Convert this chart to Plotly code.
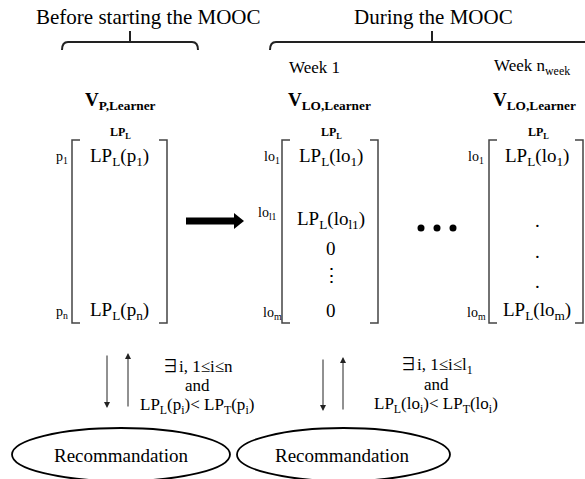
import plotly.graph_objects as go

# ---- content (texts) ----
phase_titles = ["Before starting the MOOC", "During the MOOC"]
week_labels = ["Week 1", "Week n<sub>week</sub>"]
vector_names = ["<b>V<sub>P,Learner</sub></b>", "<b>V<sub>LO,Learner</sub></b>", "<b>V<sub>LO,Learner</sub></b>"]
column_header = "<b>LP<sub>L</sub></b>"
m1_rows = ["p<sub>1</sub>", "p<sub>n</sub>"]
m1_cells = ["LP<sub>L</sub>(p<sub>1</sub>)", "LP<sub>L</sub>(p<sub>n</sub>)"]
m2_rows = ["lo<sub>1</sub>", "lo<sub>l1</sub>", "lo<sub>m</sub>"]
m2_cells = ["LP<sub>L</sub>(lo<sub>1</sub>)", "LP<sub>L</sub>(lo<sub>l1</sub>)", "0", "⋮", "0"]
m3_rows = ["lo<sub>1</sub>", "lo<sub>m</sub>"]
m3_cells = ["LP<sub>L</sub>(lo<sub>1</sub>)", ".", ".", ".", "LP<sub>L</sub>(lo<sub>m</sub>)"]
EX = '<span style="font-family:Noto Sans CJK JP">∃</span>'
cond1 = [EX + "i, 1≤i≤n", "and", "LP<sub>L</sub>(p<sub>i</sub>)< LP<sub>T</sub>(p<sub>i</sub>)"]
cond2 = [EX + "i, 1≤i≤l<sub>1</sub>", "and", "LP<sub>L</sub>(lo<sub>i</sub>)< LP<sub>T</sub>(lo<sub>i</sub>)"]
reco_label = "Recommandation"

# ---- layout geometry (pixel canvas) ----
W, H = 585, 479
FONT = "Liberation Serif, DejaVu Serif, serif"
fig = go.Figure()
ann = []
shapes = []

def txt(x, y, s, size, xanchor="center"):
    ann.append(dict(x=x, y=y, xref="x", yref="y", text=s, showarrow=False,
                    xanchor=xanchor, yanchor="middle", borderpad=0,
                    font=dict(family=FONT, size=size, color="black")))

def line_path(path, w=1.6, color="#222"):
    shapes.append(dict(type="path", path=path, xref="x", yref="y",
                       line=dict(color=color, width=w)))

# phase titles and top brackets
txt(148, 17, phase_titles[0], 21)
txt(433, 17, phase_titles[1], 21)
line_path("M62,50 Q62,42 68,42 L192,42 Q198,42 198,50", 2)
line_path("M130,42 L130,31", 2)
line_path("M270,50 Q270,42 276,42 L600,42", 2)
line_path("M432,42 L432,31", 2)

# week labels
txt(288, 67, week_labels[0], 17, "left")
txt(493, 67, week_labels[1], 17, "left")

# vector names
txt(120, 101, vector_names[0], 19)
txt(329, 101, vector_names[1], 19)
txt(534, 101, vector_names[2], 19)

# matrices
def matrix(xl, xr, top=140, bot=323):
    line_path(f"M{xl+8},{top} L{xl},{top} L{xl},{bot} L{xl+8},{bot}", 1.5, "#444")
    line_path(f"M{xr-8},{top} L{xr},{top} L{xr},{bot} L{xr-8},{bot}", 1.5, "#444")

matrix(72, 167)
matrix(282, 378)
matrix(489, 583)

# column headers
txt(120, 133, column_header, 12)
txt(331, 133, column_header, 12)
txt(538, 133, column_header, 12)

# matrix 1
txt(62, 157, m1_rows[0], 14)
txt(62, 312, m1_rows[1], 14)
txt(119, 157, m1_cells[0], 19)
txt(119, 311, m1_cells[1], 19)

# matrix 2
txt(272, 157, m2_rows[0], 14)
txt(267, 213, m2_rows[1], 14)
txt(272, 313, m2_rows[2], 14)
m2_y = [157, 220, 248, 275, 310]
for s, y in zip(m2_cells, m2_y):
    txt(331, y, s, 19)

# matrix 3
txt(476, 157, m3_rows[0], 14)
txt(476, 313, m3_rows[1], 14)
m3_y = [157, 220, 251, 281, 311]
for s, y in zip(m3_cells, m3_y):
    txt(537, y, s, 19)

# thick arrow between phases
shapes.append(dict(type="path", xref="x", yref="y",
                   path="M186,217.5 L234,217.5 L234,213 L244,221 L234,229 L234,224.5 L186,224.5 Z",
                   fillcolor="black", line=dict(color="black", width=0)))

# ellipsis bullets
fig.add_trace(go.Scatter(x=[421, 437, 453], y=[228, 228, 228], mode="markers",
                         marker=dict(color="black", size=7), hoverinfo="skip",
                         showlegend=False))

# thin arrows
def arrow(x, y_from, y_to):
    ann.append(dict(x=x, y=y_to, ax=x, ay=y_from, xref="x", yref="y",
                    axref="x", ayref="y", text="", showarrow=True,
                    arrowhead=2, arrowsize=1.2, arrowwidth=1, arrowcolor="#222"))

arrow(107, 354, 408)
arrow(128, 408, 353)
arrow(323, 358, 411)
arrow(343, 411, 357)

# conditions
for s, y in zip(cond1, [364, 385, 406]):
    txt(197, y, s, 17)
for s, y in zip(cond2, [363, 384, 405]):
    txt(436, y, s, 17)

# ellipses
shapes.append(dict(type="circle", xref="x", yref="y", x0=12, x1=230, y0=428, y1=481,
                   line=dict(color="black", width=1.8)))
shapes.append(dict(type="circle", xref="x", yref="y", x0=237, x1=450, y0=428, y1=481,
                   line=dict(color="black", width=1.8)))
txt(121, 455, reco_label, 19)
txt(342, 455, reco_label, 19)

fig.update_layout(
    width=W, height=H, margin=dict(l=0, r=0, t=0, b=0),
    paper_bgcolor="white", plot_bgcolor="white",
    xaxis=dict(range=[0, W], visible=False, fixedrange=True),
    yaxis=dict(range=[H, 0], visible=False, fixedrange=True),
    annotations=ann, shapes=shapes, showlegend=False, hovermode=False,
)
fig.write_html("out.html", config={"displayModeBar": False, "staticPlot": True},
               post_script="document.body.style.margin='0';document.body.style.overflow='hidden';")
